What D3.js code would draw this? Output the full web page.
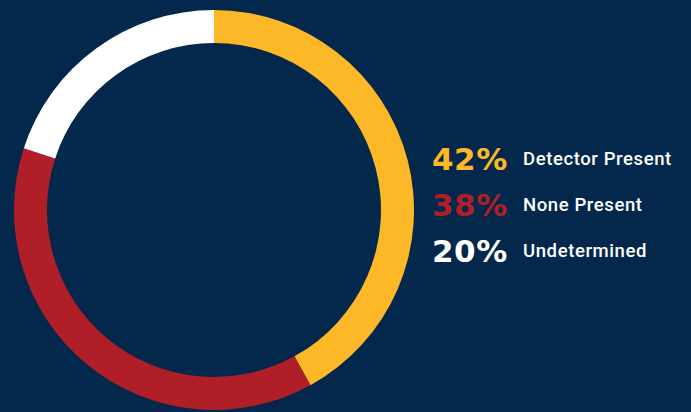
<!DOCTYPE html>
<html>
<head>
<meta charset="utf-8">
<script src="https://cdn.jsdelivr.net/npm/d3@7"></script>
<style>
  html, body { margin: 0; padding: 0; background: #03284c; }
  svg { display: block; }
</style>
</head>
<body>
<div id="chart"></div>
<script>
var labels = ["Detector Present", "None Present", "Undetermined"];
var values = [42, 38, 20];
var colors = ["#fdb827", "#b01f27", "#ffffff"];

var fullWidth = 691;
var fullHeight = 412;

var cx = 214, cy = 210;
var outerR = 200, innerR = 167;

var svg = d3.select("#chart")
    .append("svg")
    .attr("width", fullWidth)
    .attr("height", fullHeight);

svg.append("rect")
    .attr("width", fullWidth)
    .attr("height", fullHeight)
    .attr("fill", "#03284c");

var pie = d3.pie().sort(null).value(d => d);
var arc = d3.arc().innerRadius(innerR).outerRadius(outerR);

var donut = svg.append("g").attr("transform", "translate(" + cx + "," + cy + ")");
donut.selectAll("path")
    .data(pie(values))
    .enter()
    .append("path")
    .attr("d", arc)
    .attr("fill", (d, i) => colors[i]);

// legend
var y = d3.scaleBand().domain(labels).range([147, 285]).padding(0);

var legend = svg.append("g");
var rows = legend.selectAll("g")
    .data(labels)
    .enter()
    .append("g")
    .attr("transform", d => "translate(0," + (y(d) + 23) + ")");

rows.append("text")
    .attr("x", 432)
    .attr("fill", (d, i) => colors[i])
    .style("font-family", "DejaVu Sans")
    .style("font-weight", "bold")
    .style("font-size", "31px")
    .style("letter-spacing", "0.5px")
    .text((d, i) => values[i] + "%");

rows.append("text")
    .attr("x", 523)
    .attr("y", -5)
    .attr("fill", "#ffffff")
    .style("font-family", "Roboto")
    .style("font-weight", "500")
    .style("font-size", "18.5px")
    .style("letter-spacing", "0.6px")
    .text(d => d);
</script>
</body>
</html>
